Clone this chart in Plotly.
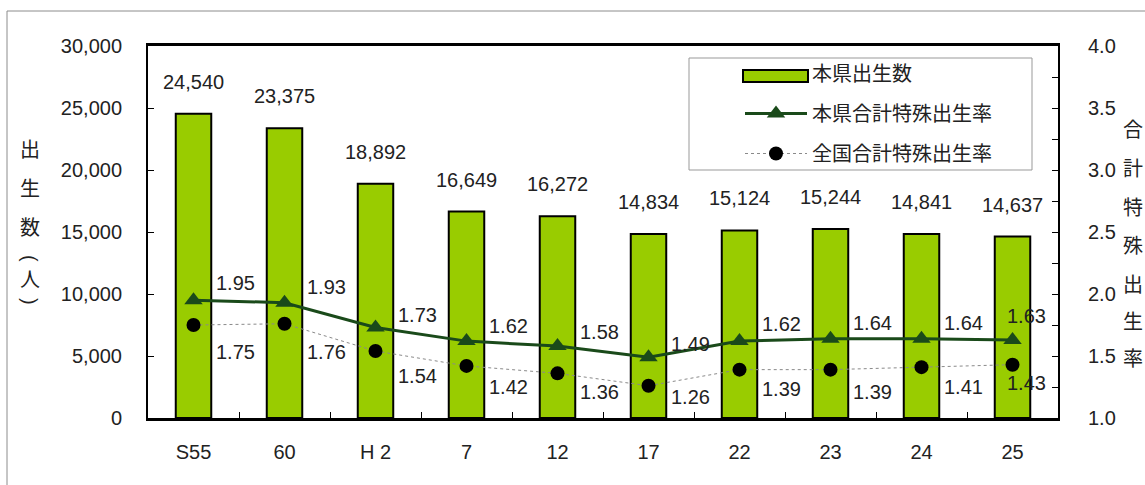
import plotly.graph_objects as go

categories = ["S55", "60", "H 2", "7", "12", "17", "22", "23", "24", "25"]
births = [24540, 23375, 18892, 16649, 16272, 14834, 15124, 15244, 14841, 14637]
pref_rate = [1.95, 1.93, 1.73, 1.62, 1.58, 1.49, 1.62, 1.64, 1.64, 1.63]
nat_rate = [1.75, 1.76, 1.54, 1.42, 1.36, 1.26, 1.39, 1.39, 1.41, 1.43]
left_title = ["出", "生", "数", "(", "人", ")"]
right_title = ["合", "計", "特", "殊", "出", "生", "率"]

# label offsets (style)
pref_dx = [42, 42, 42, 42, 42, 42, 42, 42, 42, 14]
pref_dy = [17, 16, 12, 15, 14, 13, 17, 16, 16, 24]
nat_dx = [42, 42, 42, 42, 42, 42, 42, 42, 42, 14]
nat_dy = [-27, -28, -25, -21, -19, -11, -19, -22, -20, -18]

W, H = 1145, 485
L, R, T, B = 148, 1058, 46, 418
FONT = "Liberation Sans, Arial, Noto Sans CJK JP"
TXT = "#222222"
GREEN = "#99cc00"
FS = 20

def px(x):
    return (x - L) / (R - L)

def py(y):
    return (B - y) / (B - T)

fig = go.Figure()
fig.add_trace(go.Bar(
    x=categories, y=births, name="本県出生数", width=0.39,
    marker=dict(color=GREEN, line=dict(color="#000000", width=2)),
    showlegend=False,
))
# legend-only entry for the bar series (symbol drawn as a wide box shape)
fig.add_trace(go.Scatter(
    x=[None], y=[None], name="本県出生数", mode="lines",
    line=dict(color="rgba(0,0,0,0)", width=1), legendgroup="a",
))
fig.add_trace(go.Scatter(
    x=categories, y=pref_rate, name="本県合計特殊出生率", yaxis="y2",
    mode="lines+markers", line=dict(color="#1a4a1a", width=3),
    marker=dict(symbol="triangle-up", size=16, color="#1a4a1a"),
    legendgroup="b",
))
fig.add_trace(go.Scatter(
    x=categories, y=nat_rate, name="全国合計特殊出生率", yaxis="y2",
    mode="lines+markers", line=dict(color="#8a8a8a", width=1, dash="dot"),
    marker=dict(symbol="circle", size=14, color="#000000"),
    legendgroup="c",
))

ann = []
for i, v in enumerate(births):
    ann.append(dict(x=i, y=v, xref="x", yref="y", text=f"{v:,}", showarrow=False,
                    yanchor="middle", yshift=32, font=dict(size=FS, color=TXT, family=FONT)))
for i, v in enumerate(pref_rate):
    ann.append(dict(x=i, y=v, xref="x", yref="y2", text=f"{v:.2f}", showarrow=False,
                    xshift=pref_dx[i], yshift=pref_dy[i],
                    font=dict(size=FS, color=TXT, family=FONT)))
for i, v in enumerate(nat_rate):
    ann.append(dict(x=i, y=v, xref="x", yref="y2", text=f"{v:.2f}", showarrow=False,
                    xshift=nat_dx[i], yshift=nat_dy[i],
                    font=dict(size=FS, color=TXT, family=FONT)))

left_ys = [150, 189, 228, 259, 280, 302]
for ch, yy in zip(left_title, left_ys):
    ann.append(dict(x=px(30), y=py(yy), xref="paper", yref="paper", text=ch, showarrow=False,
                    xanchor="center", yanchor="middle",
                    textangle=90 if ch in "()" else 0,
                    font=dict(size=FS, color=TXT, family=FONT)))
right_ys = [130, 169, 208, 246, 285, 322, 359]
for ch, yy in zip(right_title, right_ys):
    ann.append(dict(x=px(1133), y=py(yy), xref="paper", yref="paper", text=ch, showarrow=False,
                    xanchor="center", yanchor="middle",
                    font=dict(size=FS, color=TXT, family=FONT)))

shapes = [
    dict(type="rect", xref="paper", yref="paper", x0=px(7), x1=px(1150), y0=py(492), y1=py(11),
         line=dict(color="#8c8c8c", width=1), layer="below"),
    dict(type="rect", xref="paper", yref="paper", x0=px(689), x1=px(1032), y0=py(170), y1=py(58),
         line=dict(color="#999999", width=1), fillcolor="white", layer="above"),
    dict(type="rect", xref="paper", yref="paper", x0=px(743), x1=px(808), y0=py(82), y1=py(70),
         line=dict(color="#000000", width=2), fillcolor=GREEN, layer="above"),
]

fig.update_layout(
    width=W, height=H,
    margin=dict(l=L, r=W - R, t=T, b=H - B, autoexpand=False),
    paper_bgcolor="white", plot_bgcolor="white",
    font=dict(family=FONT, size=FS, color=TXT),
    showlegend=True,
    legend=dict(x=px(740), y=py(54), xanchor="left", yanchor="top",
                bgcolor="rgba(0,0,0,0)", borderwidth=0,
                font=dict(size=FS, color=TXT, family=FONT),
                itemwidth=62, tracegroupgap=11, traceorder="grouped"),
    bargap=0.61,
    xaxis=dict(type="category", range=[-0.5, 9.5], autorange=False,
               showline=True, linecolor="#000000", linewidth=3, mirror=True,
               ticks="inside", ticklen=6, tickcolor="#000000", tickson="boundaries",
               showgrid=False, ticklabelstandoff=14, tickangle=0,
               tickfont=dict(size=FS, color=TXT)),
    yaxis=dict(range=[0, 30000], dtick=5000, tickformat=",", showline=True, linecolor="#000000",
               linewidth=2, ticks="inside", ticklen=6, tickcolor="#000000", showgrid=False,
               zeroline=False, ticklabelstandoff=20, tickfont=dict(size=FS, color=TXT)),
    yaxis2=dict(range=[1, 4], dtick=0.5, tickformat=".1f", overlaying="y", side="right",
                showline=True, linecolor="#000000", linewidth=2, ticks="inside", ticklen=6,
                tickcolor="#000000", showgrid=False, zeroline=False, ticklabelstandoff=24,
                minor=dict(dtick=0.25, ticks="inside", ticklen=6, tickcolor="#000000"),
                tickfont=dict(size=FS, color=TXT)),
    annotations=ann, shapes=shapes,
)

fig.write_html("out.html", config={"displayModeBar": False},
               post_script="document.body.style.margin='0';document.body.style.overflow='hidden';")
